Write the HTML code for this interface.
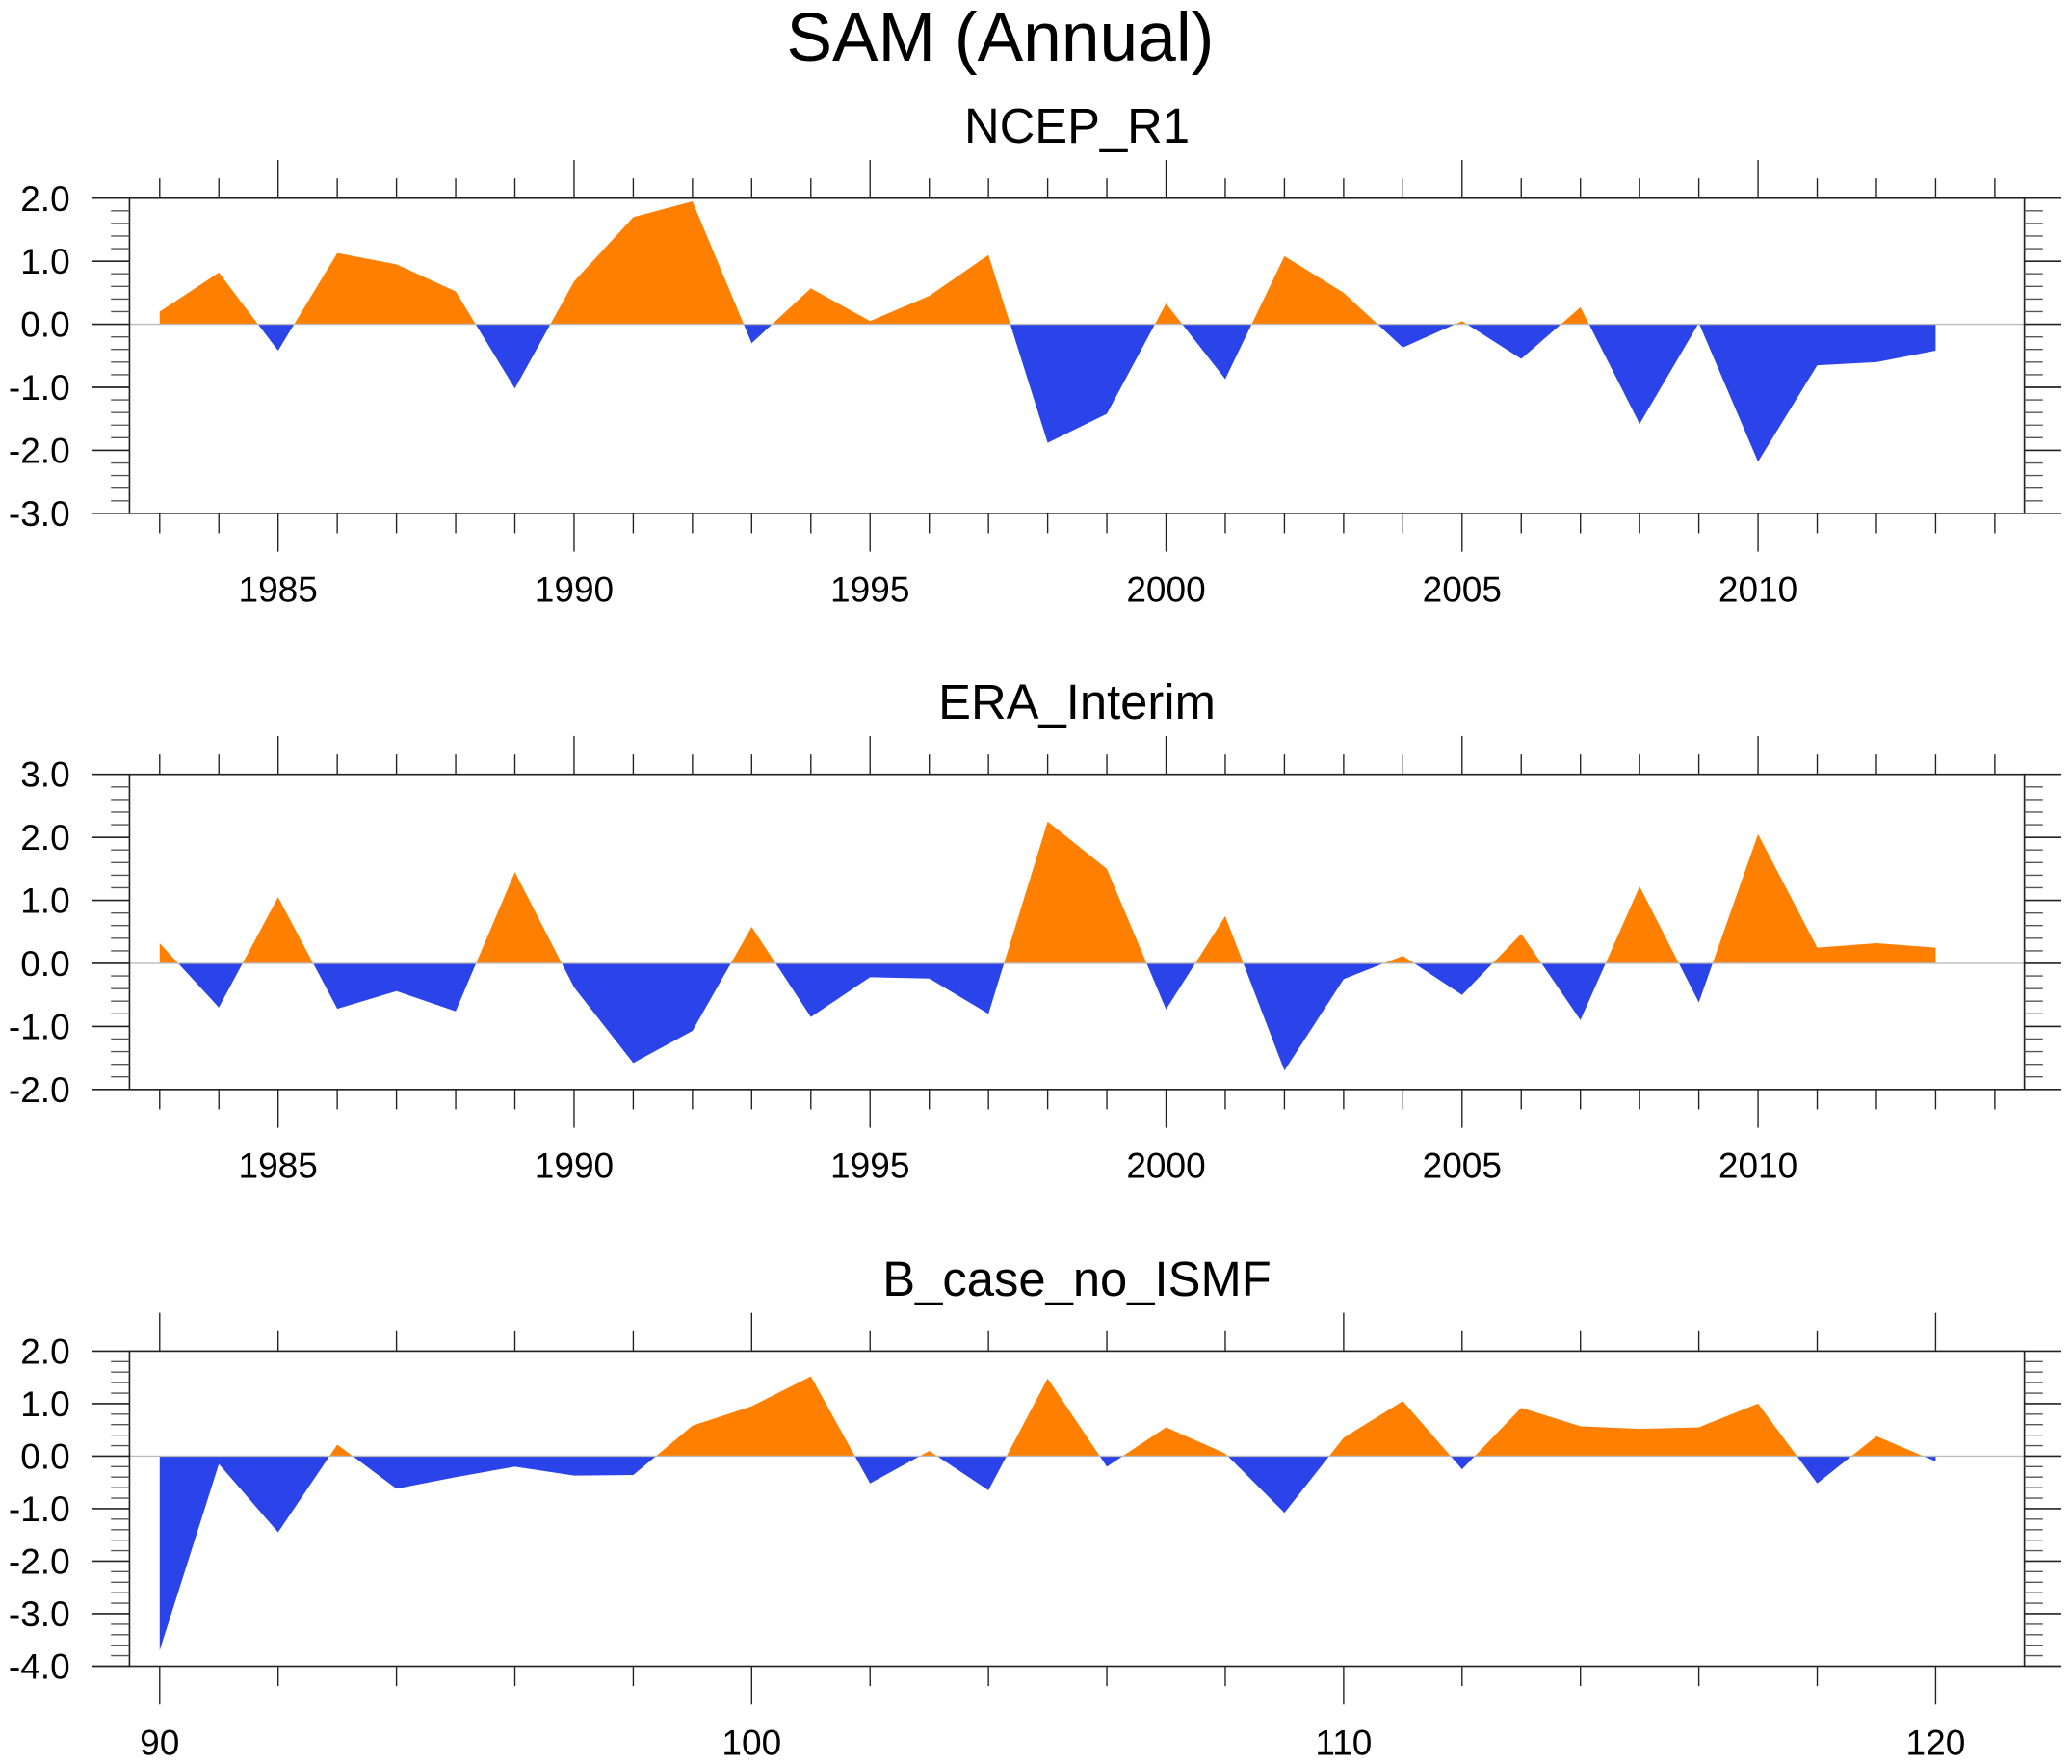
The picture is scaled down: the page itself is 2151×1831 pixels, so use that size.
<!DOCTYPE html>
<html><head><meta charset="utf-8"><style>
html,body{margin:0;padding:0;background:#fff;}
svg{display:block;font-family:"Liberation Sans",sans-serif;}
</style></head><body>
<svg id="chart" width="2151" height="1831" viewBox="0 0 1568 1335" preserveAspectRatio="none" xmlns="http://www.w3.org/2000/svg">
<text x="757" y="46" font-size="52" text-anchor="middle">SAM (Annual)</text>
</svg>
<script>
const yearsA = [1983,1984,1985,1986,1987,1988,1989,1990,1991,1992,1993,1994,1995,1996,1997,1998,1999,2000,2001,2002,2003,2004,2005,2006,2007,2008,2009,2010,2011,2012,2013];
const ncepValues = [0.2,0.82,-0.42,1.13,0.95,0.52,-1.02,0.68,1.7,1.95,-0.3,0.57,0.05,0.45,1.1,-1.88,-1.42,0.33,-0.87,1.08,0.5,-0.37,0.05,-0.55,0.27,-1.58,0.02,-2.18,-0.65,-0.6,-0.42];
const eraValues = [0.32,-0.7,1.05,-0.72,-0.44,-0.76,1.45,-0.38,-1.58,-1.07,0.58,-0.85,-0.22,-0.24,-0.8,2.25,1.5,-0.73,0.75,-1.7,-0.25,0.12,-0.5,0.47,-0.9,1.22,-0.62,2.05,0.25,0.32,0.25];
const yearsB = [90,91,92,93,94,95,96,97,98,99,100,101,102,103,104,105,106,107,108,109,110,111,112,113,114,115,116,117,118,119,120];
const bcaseValues = [-3.7,-0.15,-1.45,0.22,-0.62,-0.4,-0.2,-0.37,-0.36,0.58,0.95,1.52,-0.52,0.1,-0.65,1.48,-0.2,0.55,0.05,-1.08,0.35,1.05,-0.25,0.92,0.57,0.52,0.55,1.0,-0.52,0.38,-0.1];
const yTicksA = ["2.0","1.0","0.0","-1.0","-2.0","-3.0"];
const yTicksB = ["3.0","2.0","1.0","0.0","-1.0","-2.0"];
const yTicksC = ["2.0","1.0","0.0","-1.0","-2.0","-3.0","-4.0"];
const xTicksYears = [1985,1990,1995,2000,2005,2010];
const xTicksModel = [90,100,110,120];

const NS="http://www.w3.org/2000/svg";
const svg=document.getElementById('chart');
function mk(tag,attrs,parent){const e=document.createElementNS(NS,tag);for(const k in attrs)e.setAttribute(k,attrs[k]);(parent||svg).appendChild(e);return e;}

function panel(id,title,top,xmin,xmax,ymin,ymax,xs,vals,yLabels,xLabels,majorX,minorX){
  const L=98,R=1532,T=top,B=top+238.5;
  const g=mk('g',{});
  
  
  const sx=v=>L+(v-xmin)/(xmax-xmin)*(R-L);
  const sy=v=>T+(ymax-v)/(ymax-ymin)*(B-T);
  const t=mk('text',{x:(L+R)/2,y:T-42,'font-size':37,'text-anchor':'middle'},g);
  t.textContent=title;
  
  
  const defs=mk('defs',{},g);
  const cp=mk('clipPath',{id:id+'-pos'},defs);mk('rect',{x:L,y:T,width:R-L,height:sy(0)-T},cp);
  const cn=mk('clipPath',{id:id+'-neg'},defs);mk('rect',{x:L,y:sy(0),width:R-L,height:B-sy(0)},cn);
  let d='M'+sx(xs[0])+','+sy(0);
  for(let i=0;i<xs.length;i++)d+=' L'+sx(xs[i])+','+sy(vals[i]);
  d+=' L'+sx(xs[xs.length-1])+','+sy(0)+'Z';
  const pos=mk('path',{d:d,fill:'#ff8000','clip-path':'url(#'+id+'-pos)'},g);
  
  
  const neg=mk('path',{d:d,fill:'#2a44ea','clip-path':'url(#'+id+'-neg)'},g);
  
  
  const zl=mk('line',{x1:L,x2:R,y1:sy(0),y2:sy(0),stroke:'#bbb','stroke-width':1},g);
  
  
  const fr=mk('rect',{x:L,y:T,width:R-L,height:B-T,fill:'none',stroke:'#222','stroke-width':1.2},g);
  
  
  const nMaj=yLabels.length;
  for(let i=0;i<nMaj;i++){
    const v=ymax-i;const y=sy(v);
    mk('line',{x1:70,x2:L,y1:y,y2:y,stroke:'#222','stroke-width':1.2},g);
    mk('line',{x1:R,x2:1560,y1:y,y2:y,stroke:'#222','stroke-width':1.2},g);
    const lb=mk('text',{x:53,y:y+9.5,'font-size':27,'text-anchor':'end'},g);
    lb.textContent=yLabels[i];
    
    
    if(i<nMaj-1)for(let k=1;k<5;k++){const ym=sy(v-k*0.2);
      mk('line',{x1:84,x2:L,y1:ym,y2:ym,stroke:'#555','stroke-width':1},g);
      mk('line',{x1:R,x2:1546,y1:ym,y2:ym,stroke:'#555','stroke-width':1},g);}
  }
  for(let v=Math.ceil(xmin);v<=xmax;v++){
    if(v%minorX!==0)continue;
    const x=sx(v);const maj=v%majorX===0;
    mk('line',{x1:x,x2:x,y1:T,y2:maj?T-29:T-15,stroke:'#222','stroke-width':1},g);
    mk('line',{x1:x,x2:x,y1:B,y2:maj?B+29:B+15,stroke:'#222','stroke-width':1},g);
  }
  xLabels.forEach(v=>{const lb=mk('text',{x:sx(v),y:B+67,'font-size':27,'text-anchor':'middle'},g);
    lb.textContent=v;
    
    });
}
panel('ncep','NCEP_R1',150,1982.49,2014.5,-3,2,yearsA,ncepValues,yTicksA,xTicksYears,5,1);
panel('era','ERA_Interim',586,1982.49,2014.5,-2,3,yearsA,eraValues,yTicksB,xTicksYears,5,1);
panel('bcase','B_case_no_ISMF',1022.5,89.49,121.5,-4,2,yearsB,bcaseValues,yTicksC,xTicksModel,10,2);
</script>
</body></html>
